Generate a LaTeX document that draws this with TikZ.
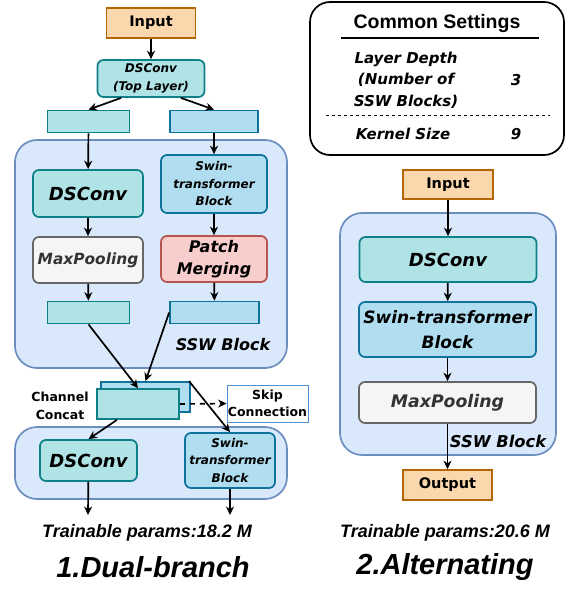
\documentclass[tikz,border=0pt]{standalone}
\usepackage{fontspec}
\usepackage{xcolor}
\usepackage{tikz}
\usetikzlibrary{arrows.meta}
\setmainfont{DejaVu Sans}[BoldFont={DejaVu Sans Bold},ItalicFont={DejaVu Sans Oblique},BoldItalicFont={DejaVu Sans Bold Oblique}]
\newfontfamily\arialfont{Liberation Sans}

\definecolor{inFill}{HTML}{FAD7AC}
\definecolor{inLine}{HTML}{B46504}
\definecolor{tealFill}{HTML}{B0E3E6}
\definecolor{tealLine}{HTML}{0E8088}
\definecolor{blueFill}{HTML}{B1DDF0}
\definecolor{blueLine}{HTML}{10739E}
\definecolor{blockFill}{HTML}{DAE8FC}
\definecolor{blockLine}{HTML}{6C8EBF}
\definecolor{greyFill}{HTML}{F5F5F5}
\definecolor{greyLine}{HTML}{666666}
\definecolor{greyText}{HTML}{333333}
\definecolor{redFill}{HTML}{F8CECC}
\definecolor{redLine}{HTML}{B85450}
\definecolor{skipLine}{HTML}{4A90D9}

\tikzset{
	box/.style={rounded corners=6pt, line width=1.7pt, inner sep=0pt, align=center},
	iobox/.style={draw=inLine, fill=inFill, line width=1.7pt, inner sep=0pt, font=\bfseries\fontsize{14.5}{17}\selectfont},
	tealbox/.style={box, draw=tealLine, fill=tealFill},
	bluebox/.style={box, draw=blueLine, fill=blueFill},
	greybox/.style={box, draw=greyLine, fill=greyFill, text=greyText},
	redbox/.style={box, draw=redLine, fill=redFill},
	tealfeat/.style={draw=tealLine, fill=tealFill, line width=1.7pt, inner sep=0pt, minimum height=22},
	bluefeat/.style={draw=blueLine, fill=blueFill, line width=1.7pt, inner sep=0pt, minimum height=22},
	blockbg/.style={draw=blockLine, fill=blockFill, line width=1.7pt, rounded corners=22pt, inner sep=0pt},
	arr/.style={-{Stealth[length=8.5pt,width=8pt]}, line width=1.7pt},
	small/.style={font=\bfseries\itshape\fontsize{12}{17.5}\selectfont},
	large/.style={font=\bfseries\itshape\fontsize{18}{22}\selectfont},
	plain/.style={font=\bfseries\fontsize{12.5}{17.5}\selectfont, align=center},
	params/.style={font=\arialfont\bfseries\itshape\fontsize{18}{20}\selectfont},
	title/.style={font=\arialfont\bfseries\itshape\fontsize{29}{32}\selectfont},
	setting/.style={font=\bfseries\itshape\fontsize{15}{21.5}\selectfont, align=center},
}

\begin{document}
\begin{tikzpicture}[x=1pt,y=-1pt]
	\useasboundingbox (0,0) rectangle (574,591);

	% dual-branch
	\node[blockbg, minimum width=272, minimum height=228] (sswA) at (151,254) {};
	\node[blockbg, minimum width=272, minimum height=72] (lowA) at (151,463) {};

	\node[iobox, minimum width=89, minimum height=30] (inA) at (151,23) {Input};
	\node[tealbox, small, minimum width=107, minimum height=37] (topA) at (151,78.5) {DSConv\\(Top Layer)};
	\node[tealfeat, minimum width=82] (lfA) at (88.5,121.5) {};
	\node[bluefeat, minimum width=88] (rfA) at (214,121.5) {};
	\node[tealbox, large, minimum width=110, minimum height=47] (dscA) at (88,193.5) {DSConv};
	\node[bluebox, small, minimum width=106, minimum height=58] (swinA) at (214,184) {Swin-\\transformer\\Block};
	\node[greybox, font=\bfseries\itshape\fontsize{15.4}{18}\selectfont, minimum width=110, minimum height=46] (poolA) at (88,260) {MaxPooling};
	\node[redbox, font=\bfseries\itshape\fontsize{16}{21.5}\selectfont, minimum width=106, minimum height=46] (patchA) at (214,259) {Patch\\Merging};
	\node[tealfeat, minimum width=82] (lgA) at (88.5,312.5) {};
	\node[bluefeat, minimum width=89] (rgA) at (214.5,312.5) {};
	\node[font=\bfseries\itshape\fontsize{16}{18}\selectfont] (sswlabA) at (223,345) {SSW Block};

	\node[bluefeat, minimum width=89, minimum height=30] (catB) at (145.5,397) {};
	\node[tealfeat, minimum width=82, minimum height=30] (catF) at (138,404) {};
	\node[plain] (catlab) at (60,406) {Channel\\Concat};
	\node[plain, draw=skipLine, line width=0.8pt, fill=white, inner sep=0pt, minimum width=81, minimum height=37] (skip) at (267.5,403.5) {Skip\\Connection};

	\node[tealbox, large, minimum width=97, minimum height=41] (dscL) at (88.5,460.5) {DSConv};
	\node[bluebox, small, minimum width=90, minimum height=55] (swinL) at (230,460.5) {Swin-\\transformer\\Block};
	\coordinate (endL) at (88,515);
	\coordinate (endR) at (230,515);

	\node[params] (parA) at (147,533) {Trainable params:18.2 M};
	\node[title] (titA) at (153,567) {1.Dual-branch};

	\draw[arr] (inA) -- (topA);
	\draw[arr] (topA.213) -- (lfA.north);
	\draw[arr] (topA.327) -- (rfA.north);
	\draw[arr] (lfA) -- (dscA);
	\draw[arr] (rfA) -- (swinA);
	\draw[arr] (dscA) -- (poolA);
	\draw[arr] (swinA) -- (patchA);
	\draw[arr] (poolA) -- (lgA);
	\draw[arr] (patchA) -- (rgA);
	\draw[arr] (lgA.south) -- (catF.north);
	\draw[arr] (rgA.west) -- (catB.north);
	\draw[arr] (catF.217) -- (dscL.north);
	\draw[arr] (catB.20) -- (swinL.north);
	\draw[arr, dashed, dash pattern=on 5pt off 5pt] (catF.east) -- (skip.west);
	\draw[arr] (dscL) -- (endL);
	\draw[arr] (swinL) -- (endR);

	% settings
	\draw[line width=1.7pt, rounded corners=20pt] (310,2) rectangle (564,155);
	\node[font=\arialfont\bfseries\fontsize{19.5}{22}\selectfont] (setT) at (437,24) {Common Settings};
	\draw[line width=1.7pt] (341,38) -- (539,38);
	\node[setting] (depth) at (406,80) {Layer Depth\\(Number of\\SSW Blocks)};
	\node[setting] (depthV) at (516,80) {3};
	\draw[line width=1pt, dashed] (326,116) -- (550,116);
	\node[setting] (kern) at (403,134) {Kernel Size};
	\node[setting] (kernV) at (516,134) {9};

	% alternating
	\node[blockbg, minimum width=216, minimum height=242] (sswB) at (448,334) {};
	\node[iobox, minimum width=90, minimum height=29] (inB) at (448,184.5) {Input};
	\node[tealbox, large, minimum width=177, minimum height=45] (dscB) at (448,259.5) {DSConv};
	\node[bluebox, font=\bfseries\itshape\fontsize{17}{25}\selectfont, minimum width=177, minimum height=55] (swinB) at (447.5,329.5) {Swin-transformer\\Block};
	\node[greybox, font=\bfseries\itshape\fontsize{17.3}{20}\selectfont, minimum width=177, minimum height=41] (poolB) at (447.5,402.5) {MaxPooling};
	\node[iobox, minimum width=89, minimum height=30] (outB) at (447.5,485) {Output};
	\node[font=\bfseries\itshape\fontsize{16.3}{18}\selectfont] (sswlabB) at (498,441) {SSW Block};

	\node[params] (parB) at (445,533) {Trainable params:20.6 M};
	\node[title] (titB) at (445,567) {2.Alternating};

	\draw[arr] (inB) -- (dscB);
	\draw[arr] (dscB) -- (swinB);
	\draw[arr] (swinB) -- (poolB);
	\draw[arr] (poolB) -- (outB);
\end{tikzpicture}
\end{document}
